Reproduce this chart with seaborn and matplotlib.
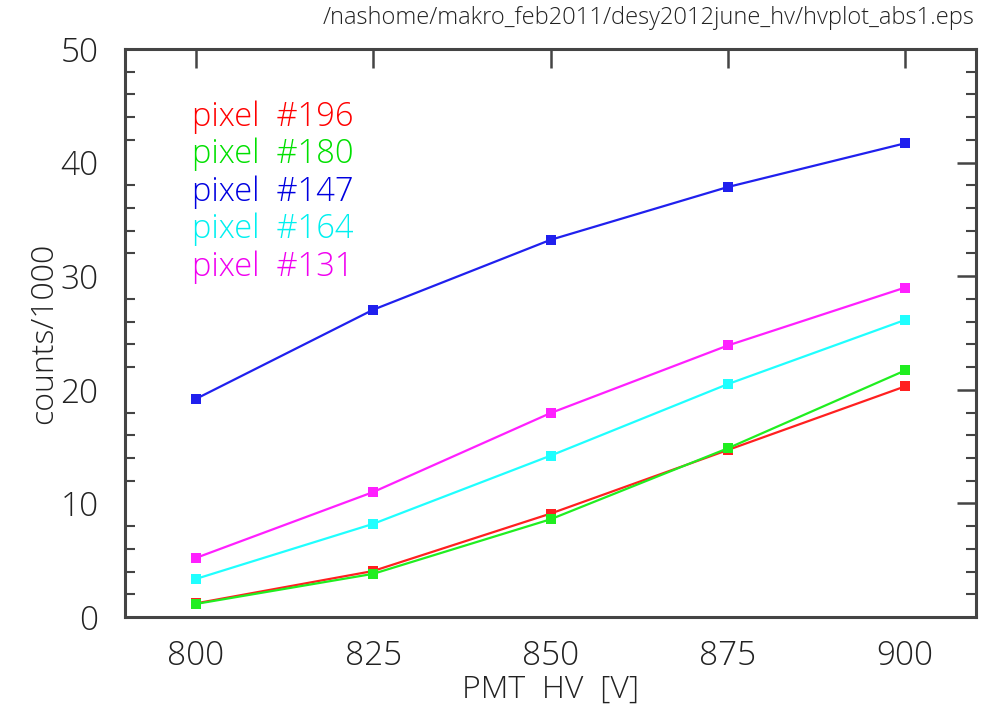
import matplotlib
matplotlib.use("Agg")
import matplotlib.pyplot as plt
from matplotlib.ticker import MultipleLocator
import seaborn as sns
import pandas as pd

hv = [800, 825, 850, 875, 900]
pixels = ["#196", "#180", "#147", "#164", "#131"]
pix196 = [1.2, 4.05, 9.1, 14.7, 20.3]
pix180 = [1.15, 3.8, 8.6, 14.85, 21.7]
pix147 = [19.2, 27.05, 33.2, 37.85, 41.7]
pix164 = [3.35, 8.2, 14.2, 20.5, 26.15]
pix131 = [5.2, 11.0, 17.95, 23.9, 29.0]
colors = ["#ff2020", "#20ee20", "#2020ee", "#20ffff", "#ff20ff"]
text_colors = ["#ff0000", "#00e000", "#0000e0", "#00f0f0", "#f000f0"]

series = [pix196, pix180, pix147, pix164, pix131]
rows = []
for name, vals in zip(pixels, series):
    for x, y in zip(hv, vals):
        rows.append({"hv": x, "counts": y, "pixel": name})
df = pd.DataFrame(rows)

sns.set_style("white")
plt.rcParams["font.family"] = ["Open Sans", "DejaVu Sans"]
plt.rcParams["font.weight"] = "light"
plt.rcParams["axes.labelweight"] = "light"
txtc = "#222222"

fig = plt.figure(figsize=(9.91, 7.06), dpi=100)
ax = fig.add_axes([125/991, 1-617/706, (976-125)/991, (617-49)/706])

sns.lineplot(data=df, x="hv", y="counts", hue="pixel", hue_order=pixels,
             palette=dict(zip(pixels, colors)), marker="s", markersize=7,
             markeredgewidth=0, linewidth=1.6, legend=False, ax=ax)

ax.set_xlim(790, 910)
ax.set_ylim(0, 50)
ax.set_xticks(hv)
ax.yaxis.set_major_locator(MultipleLocator(10))
ax.yaxis.set_minor_locator(MultipleLocator(2))
ax.tick_params(axis="both", which="major", direction="in", length=14, width=1.8,
               color="#444444", top=True, right=True, labelsize=24, labelcolor=txtc)
ax.tick_params(axis="x", which="major", pad=16)
ax.tick_params(axis="y", which="major", pad=19)
ax.tick_params(axis="y", which="minor", direction="in", length=7, width=1.5,
               color="#444444", left=True, right=True)
for s in ax.spines.values():
    s.set_linewidth(2.2)
    s.set_color("#444444")

ax.set_xlabel("PMT  HV  [V]", fontsize=23, color=txtc, labelpad=1, fontweight="light")
ax.set_ylabel("counts/1000", fontsize=23, color=txtc, labelpad=0, fontweight="light")

for i, (name, c) in enumerate(zip(pixels, text_colors)):
    ax.text(192/991, 1-(117+37.5*i)/706, f"pixel  {name}", color=c, fontsize=23.5,
            transform=fig.transFigure, va="center", ha="left", fontweight="light")

fig.text(975/991, 1-18/706, "/nashome/makro_feb2011/desy2012june_hv/hvplot_abs1.eps",
         ha="right", va="center", fontsize=17, color=txtc, fontweight="light")

fig.savefig("out.png", dpi=100)
